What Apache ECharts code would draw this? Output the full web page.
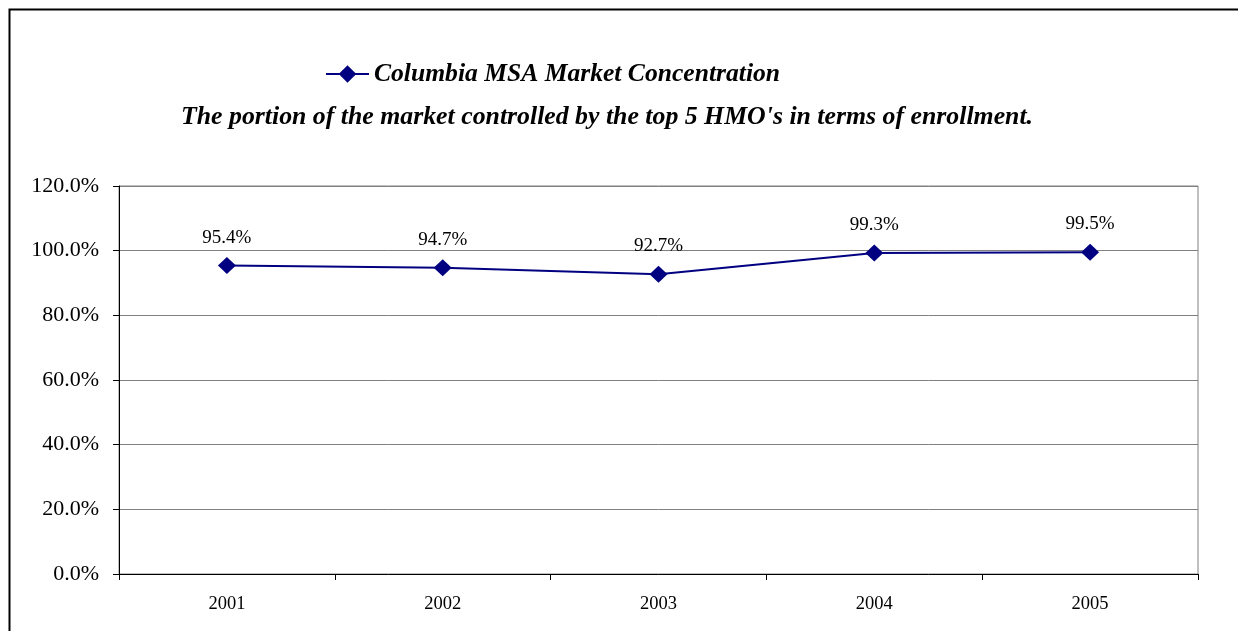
<!DOCTYPE html>
<html>
<head>
<meta charset="utf-8">
<script src="https://cdn.jsdelivr.net/npm/echarts@6/dist/echarts.min.js"></script>
<style>
  html, body { margin: 0; padding: 0; background: #fff; }
  #chart { width: 1238px; height: 631px; }
</style>
</head>
<body>
<div id="chart"></div>
<script>
// Share of enrollment held by the five largest HMOs, Columbia MSA
const years = ['2001', '2002', '2003', '2004', '2005'];
const concentration = [95.4, 94.7, 92.7, 99.3, 99.5];
const seriesName = 'Columbia MSA Market Concentration';
const subtitle = "The portion of the market controlled by the top 5 HMO's in terms of enrollment.";

const serif = '"Liberation Serif", "Times New Roman", serif';
const chart = echarts.init(document.getElementById('chart'));

chart.setOption({
  animation: false,
  backgroundColor: '#ffffff',
  graphic: [{
    type: 'rect',
    shape: { x: 9.5, y: 9.5, width: 1260, height: 700 },
    style: { fill: 'none', stroke: '#000', lineWidth: 2 },
    silent: true
  }],
  title: {
    text: subtitle,
    left: 181,
    top: 104,
    padding: 0,
    textStyle: { fontFamily: serif, fontSize: 25.8, fontWeight: 'bold', fontStyle: 'italic', color: '#000' }
  },
  legend: {
    data: [seriesName],
    left: 325,
    top: 61,
    padding: 0,
    itemWidth: 43,
    itemHeight: 22,
    itemGap: 3,
    textStyle: { fontFamily: serif, fontSize: 25.6, fontWeight: 'bold', fontStyle: 'italic', color: '#000' }
  },
  grid: {
    left: 119, right: 40, top: 186, bottom: 57,
    show: true, borderColor: '#808080', borderWidth: 1,
    containLabel: false
  },
  xAxis: {
    type: 'category',
    data: years,
    boundaryGap: true,
    axisLine: { lineStyle: { color: '#000', width: 1 } },
    axisTick: { show: true, interval: 0, length: 6, inside: false, lineStyle: { color: '#000' } },
    axisLabel: { fontFamily: serif, fontSize: 18.5, color: '#000', margin: 21 },
    splitLine: { show: false }
  },
  yAxis: {
    type: 'value',
    min: 0,
    max: 120,
    interval: 20,
    axisLine: { show: true, lineStyle: { color: '#000', width: 1 } },
    axisTick: { show: true, length: 6, lineStyle: { color: '#000' } },
    axisLabel: {
      fontFamily: serif, fontSize: 22, color: '#000', margin: 20,
      formatter: v => v.toFixed(1) + '%'
    },
    splitLine: { show: true, lineStyle: { color: '#808080', width: 1 } }
  },
  series: [{
    name: seriesName,
    type: 'line',
    data: concentration,
    symbol: 'diamond',
    symbolSize: [18, 17],
    lineStyle: { color: '#000080', width: 2 },
    itemStyle: { color: '#000080' },
    label: {
      show: true,
      position: 'top',
      distance: 10,
      fontFamily: serif,
      fontSize: 19,
      color: '#000',
      formatter: p => p.value.toFixed(1) + '%'
    }
  }]
});
</script>
</body>
</html>
